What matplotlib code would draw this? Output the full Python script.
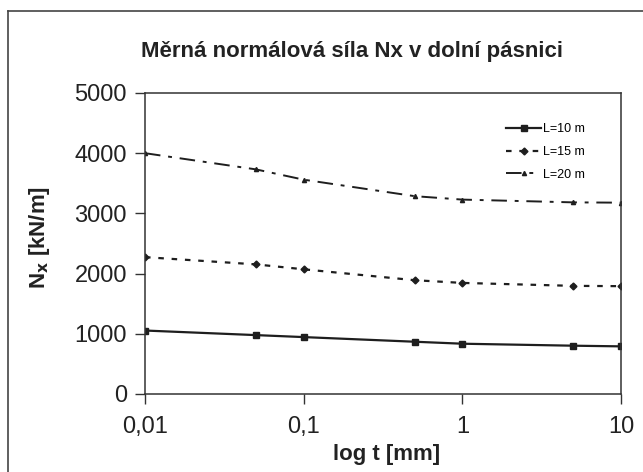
import matplotlib
matplotlib.use('Agg')
import matplotlib.pyplot as plt
from matplotlib.lines import Line2D
from matplotlib.ticker import FixedLocator, NullLocator

plt.rcParams['font.family'] = ['Liberation Sans', 'DejaVu Sans']

# data
t = [0.01, 0.05, 0.1, 0.5, 1, 5, 10]
nx_L10 = [1054, 978, 945, 868, 835, 802, 791]
nx_L15 = [2273, 2153, 2071, 1890, 1845, 1796, 1791]
nx_L20 = [4000, 3731, 3560, 3286, 3229, 3183, 3178]
labels = ['L=10 m', 'L=15 m', 'L=20 m']
xticks = [0.01, 0.1, 1, 10]
xticklabels = ['0,01', '0,1', '1', '10']
yticks = [0, 1000, 2000, 3000, 4000, 5000]

fig = plt.figure(figsize=(6.43, 4.72), dpi=100)
ax = fig.add_axes([0.2255, 0.1653, 0.7403, 0.6377])

col = '#1e1e1e'
ax.plot(t, nx_L10, color=col, lw=1.6, ls='-', marker='s', ms=4.5, label=labels[0])
ax.plot(t, nx_L15, color=col, lw=1.6, ls=(0, (2.5, 3.5)), marker='D', ms=3.5, label=labels[1])
ax.plot(t, nx_L20, color=col, lw=1.4, ls=(0, (8, 4, 2, 4)), marker='^', ms=3, label=labels[2])

ax.set_xscale('log')
ax.set_xlim(0.01, 10)
ax.set_ylim(0, 5000)
ax.xaxis.set_major_locator(FixedLocator(xticks))
ax.xaxis.set_minor_locator(NullLocator())
ax.set_xticklabels(xticklabels)
ax.set_yticks(yticks)
ax.tick_params(labelsize=17, length=7, width=1, color='#333333', labelcolor='#222222')
ax.tick_params(axis='x', pad=9)
ax.tick_params(axis='y', pad=6)
for s in ax.spines.values():
    s.set_color('#333333')
    s.set_linewidth(1.1)

ax.set_xlabel('log t [mm]', fontsize=16, fontweight='bold', color='#222222')
ax.xaxis.set_label_coords(0.508, -0.166)
ax.set_ylabel(r'N$_\mathbf{x}$ [kN/m]', fontsize=16, fontweight='bold', color='#222222')
ax.yaxis.set_label_coords(-0.195, 0.52)

fig.text(0.548, 0.89, 'Měrná normálová síla Nx v dolní pásnici', fontsize=16,
         fontweight='bold', ha='center', va='center', color='#222222')

ax.legend(loc='upper left', bbox_to_anchor=(0.746, 0.92), frameon=False, fontsize=9,
          handlelength=2.8, handletextpad=0.15, labelspacing=0.85, borderpad=0)

# outer chart border (only left and top are visible in the reference)
fig.add_artist(Line2D([8 / 643, 8 / 643], [0, 1 - 11 / 472], color='#444444', lw=1.2))
fig.add_artist(Line2D([8 / 643, 1], [1 - 11 / 472, 1 - 11 / 472], color='#444444', lw=1.2))

fig.savefig('out.png', dpi=100)
